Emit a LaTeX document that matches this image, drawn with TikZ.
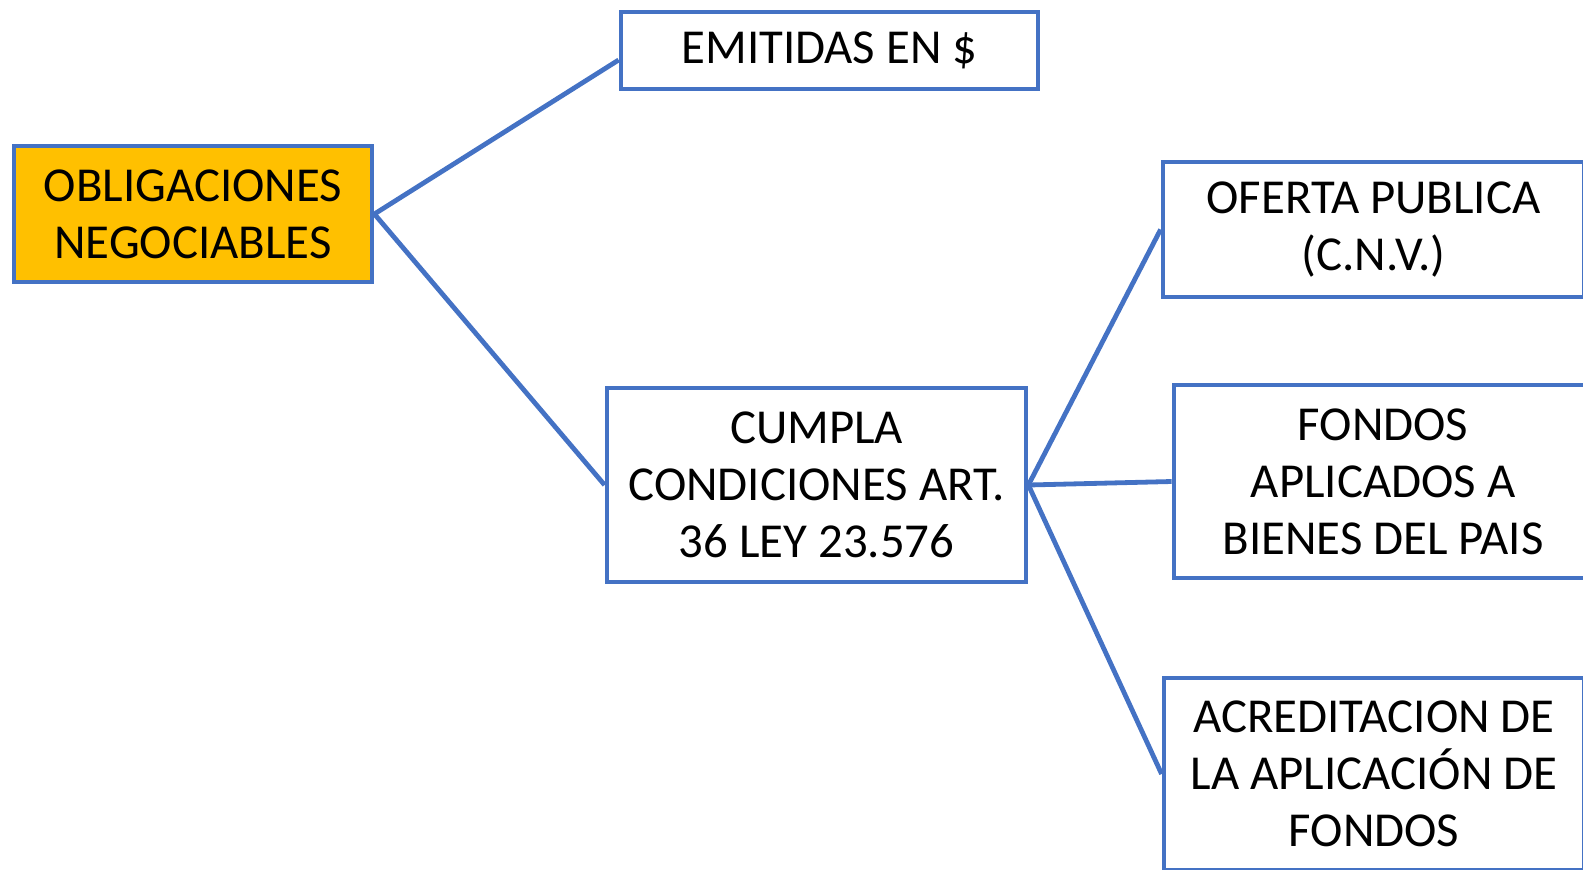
\documentclass[tikz,border=0pt]{standalone}
\usepackage{fontspec}
\setmainfont{Carlito}
\definecolor{boxblue}{HTML}{4472C4}
\definecolor{boxorange}{HTML}{FFC000}
\begin{document}
\begin{tikzpicture}[x=0.5pt,y=-0.5pt,
  box/.style={draw=boxblue, line width=2.4pt, rectangle, inner sep=0pt,
    align=center, font=\fontsize{24.4}{28.5}\selectfont, text=black},
  link/.style={draw=boxblue, line width=2.4pt}]
\useasboundingbox (0,0) rectangle (1583,869);
\node[box, fill=boxorange, minimum width=179pt, minimum height=68pt] (obl) at (193,214) {OBLIGACIONES\\NEGOCIABLES};
\node[box, fill=white, minimum width=208.5pt, minimum height=38.5pt] (emi) at (829.5,50.5) {EMITIDAS EN \$};
\node[box, fill=white, minimum width=209.5pt, minimum height=97pt] (cum) at (816.5,485) {CUMPLA\\CONDICIONES ART.\\36 LEY 23.576};
\node[box, fill=white, minimum width=210.5pt, minimum height=67.5pt] (ofe) at (1373.5,229.5) {OFERTA PUBLICA\\(C.N.V.)};
\node[box, fill=white, minimum width=209pt, minimum height=96.5pt] (fon) at (1383,481.5) {FONDOS\\APLICADOS A\\BIENES DEL PAIS};
\node[box, fill=white, minimum width=210pt, minimum height=96pt] (acr) at (1374,774) {ACREDITACION DE\\LA APLICACIÓN DE\\FONDOS};
\draw[link] (obl.east) -- ([yshift=-4.75pt]emi.west);
\draw[link] (obl.east) -- (cum.west);
\draw[link] (cum.east) -- (ofe.west);
\draw[link] (cum.east) -- (fon.west);
\draw[link] (cum.east) -- (acr.west);
\end{tikzpicture}
\end{document}
